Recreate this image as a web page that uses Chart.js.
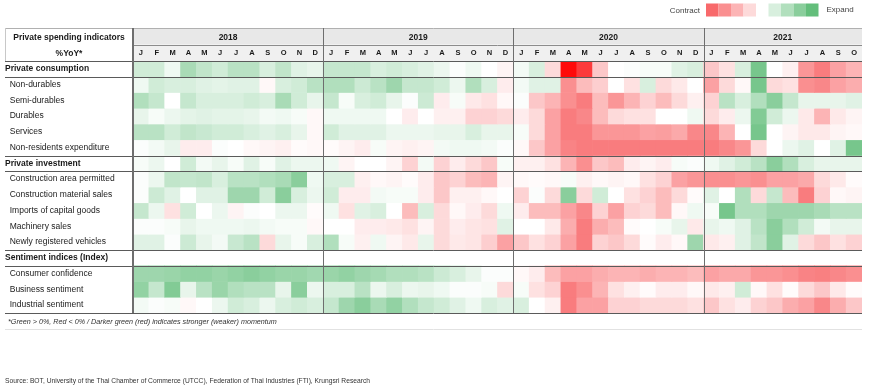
<!DOCTYPE html>
<html>
<head>
<meta charset="utf-8">
<script src="https://cdn.jsdelivr.net/npm/chart.js@4.4.1/dist/chart.umd.min.js"></script>
<style>
  body { margin: 0; background: #fff; }
  #chart { display: block; }
</style>
</head>
<body>
<canvas id="chart" width="870" height="392"></canvas>
<script>
// momentum scores: + = expand (green), - = contract (red)
const years = ['2018', '2019', '2020', '2021'];
const monthsPerYear = [12, 12, 12, 10];
const monthLetters = ['J', 'F', 'M', 'A', 'M', 'J', 'J', 'A', 'S', 'O', 'N', 'D'];

const rowLabels = [
    'Private consumption',
    'Non-durables',
    'Semi-durables',
    'Durables',
    'Services',
    'Non-residents expenditure',
    'Private investment',
    'Construction area permitted',
    'Construction material sales',
    'Imports of capital goods',
    'Machinery sales',
    'Newly registered vehicles',
    'Sentiment indices (Index)',
    'Consumer confidence',
    'Business sentiment',
    'Industrial sentiment',
];
const sectionRows = [0, 6, 12];

const privateConsumption = [
    1.2, 1.2, 0.4, 2.2, 1.6, 1.2, 1.8, 1.8, 1.0, 1.6, 0.8, 0.6,
    1.5, 1.5, 1.5, 1.0, 1.2, 1.0, 0.8, 0.5, 0.1, 0.4, 0.0, -0.3,
    0.3, 1.0, -1.0, -5.0, -4.5, -1.5, 0.0, 0.1, 0.2, 0.2, 0.8, 1.0,
    -1.5, -0.8, 1.0, 3.5, 0.0, -0.4, -2.8, -3.5, -2.5, -2.0,
];
const nonDurables = [
    0.4, 1.2, 1.0, 1.0, 0.8, 0.7, 0.8, 0.8, -0.2, 1.0, 1.2, 1.8,
    2.0, 2.0, 1.3, 1.8, 2.5, 1.5, 1.5, 1.2, 0.5, 2.0, 1.0, -0.5,
    0.3, 0.8, 0.8, -3.0, -1.8, -1.3, 0.0, -0.8, 1.0, -1.0, -0.6, 0.0,
    -2.5, -1.0, -0.2, 3.5, -1.0, -0.8, -3.0, -3.2, -2.5, -2.2,
];
const semiDurables = [
    2.0, 1.5, 0.0, 1.5, 1.0, 1.0, 1.0, 1.2, 1.0, 2.2, 1.2, 0.6,
    1.5, 0.2, 1.0, 1.2, 0.6, 0.1, 1.3, -0.5, 0.2, -0.6, -0.8, -0.2,
    0.1, -1.5, -2.0, -3.0, -3.5, -1.8, -2.8, -2.0, -1.2, -1.8, -1.0, -0.4,
    -1.2, 1.8, 1.0, 2.0, 3.0, 1.5, 0.6, 0.6, 0.6, 0.8,
];
const durables = [
    0.6, 0.2, 0.5, 0.7, 0.8, 0.7, 0.7, 0.6, 0.3, 0.4, 0.2, -0.2,
    0.4, 0.4, 0.4, 0.4, 0.0, -0.5, 0.0, -0.4, -0.4, -1.2, -1.2, -1.0,
    -0.5, -1.0, -2.5, -3.5, -3.2, -1.8, -1.0, -0.8, -0.8, 0.0, 0.0, 0.4,
    -1.0, -0.5, 0.5, 3.2, 1.2, 0.5, -0.6, -2.0, -0.6, -0.3,
];
const services = [
    1.8, 1.8, 1.2, 1.6, 1.4, 1.2, 1.2, 1.0, 0.8, 1.0, 0.6, -0.2,
    1.2, 0.8, 0.8, 0.8, 0.5, 0.5, 0.5, 0.6, 0.6, 1.0, 0.6, 0.6,
    0.2, -1.0, -2.5, -3.5, -3.5, -2.8, -2.8, -2.8, -2.5, -2.6, -2.3, -3.2,
    -3.2, -2.0, 0.0, 3.5, 0.0, -0.3, -0.6, -0.6, -0.3, -0.2,
];
const nonResidents = [
    0.1, 0.3, 0.6, -0.5, -0.5, 0.1, 0.0, -0.2, -0.3, -0.4, -0.1, -0.2,
    -0.1, -0.3, -0.5, 0.2, -0.3, -0.4, -0.3, 0.3, 0.4, 0.4, 0.3, 0.1,
    -0.2, -1.5, -2.5, -3.3, -3.5, -3.5, -3.5, -3.5, -3.5, -3.5, -3.5, -3.5,
    -3.5, -3.2, -2.8, -1.0, 0.0, 0.5, 0.8, 0.0, 0.8, 3.5,
];
const privateInvestment = [
    0.2, 0.5, 0.0, 1.2, 0.3, 0.6, 0.2, 0.8, 0.2, 0.8, 0.5, 0.5,
    0.4, -0.3, 0.0, 0.0, -0.3, -1.2, 0.3, -1.2, -0.5, -1.0, -1.5, 0.2,
    -0.4, -0.4, -0.8, -2.0, -3.0, -1.5, -1.8, -0.5, -0.3, -0.5, 0.2, 0.1,
    0.4, 0.8, 1.2, 1.8, 3.0, 2.0, 1.0, 0.6, 0.6, 0.6,
];
const constructionArea = [
    0.1, 0.5, 1.6, 1.5, 1.6, 1.0, 1.8, 1.8, 2.0, 2.2, 3.0, 0.4,
    1.0, 1.0, -0.4, -0.2, -0.3, -0.1, -0.5, -1.5, -1.2, -1.8, -2.0, -0.3,
    -0.2, -0.1, -0.2, 0.2, -0.4, -0.2, -0.3, -0.2, -0.8, -1.2, -2.5, -2.8,
    -3.0, -3.0, -2.8, -3.0, -2.5, -2.5, -2.3, -1.0, -0.6, -0.1,
];
const constructionMaterial = [
    0.1, 1.3, 0.8, 0.0, 0.8, 0.8, 2.5, 2.5, 1.2, 3.0, 1.0, 0.5,
    1.2, -0.5, -0.5, 0.3, 0.2, 0.2, -0.5, -1.5, -0.4, -0.4, -0.2, 0.0,
    -1.2, 0.1, -1.0, 3.0, -1.0, 1.2, 0.0, -0.8, -1.2, -1.8, -1.0, -0.1,
    0.8, 0.0, 2.0, -1.0, 1.5, -1.8, -3.5, -1.2, -0.2, -0.3,
];
const importsCapital = [
    1.5, 0.5, -0.8, 1.2, 0.0, 0.5, -0.3, 0.1, 0.0, 0.5, 0.5, -0.1,
    0.4, -0.8, 0.8, 1.0, 0.0, -1.8, 1.0, -1.0, -0.2, -0.5, -1.0, 0.4,
    -0.5, -1.8, -1.8, -2.5, -3.2, -1.2, -2.5, -1.2, -1.0, -1.8, -0.2, 0.4,
    0.2, 3.5, 2.0, 2.0, 2.5, 2.5, 2.5, 2.2, 1.8, 1.8,
];
const machinerySales = [
    0.1, 0.1, 0.2, 0.6, 0.4, 0.4, 0.4, 0.5, 0.3, 0.2, 0.2, -0.2,
    0.0, 0.0, -0.5, -0.5, -0.6, -0.8, -0.3, -1.0, -0.5, -0.7, -0.8, 0.8,
    0.0, 0.0, -0.6, -2.2, -3.5, -2.2, -1.8, -0.1, 0.0, 0.2, 0.6, -0.6,
    0.6, 0.4, 0.8, 1.8, 3.0, 2.0, 1.2, 0.3, 0.6, 0.6,
];
const newVehicles = [
    0.8, 0.8, 0.1, 1.3, 0.6, 0.3, 1.4, 1.8, -1.0, 0.6, 0.2, 1.0,
    2.0, 0.2, -0.4, 0.4, -0.3, -0.6, 0.6, -1.0, -0.6, -0.7, -1.3, -2.5,
    -1.5, -0.8, -1.2, -2.5, -3.5, -1.2, -1.5, -1.0, -0.1, -0.5, -0.2, 2.5,
    -0.6, -0.4, 0.8, 1.6, 3.0, 0.8, -1.0, -1.5, -0.8, -1.2,
];
const consumerConfidence = [
    2.5, 2.5, 2.6, 2.8, 2.8, 2.6, 2.8, 3.0, 2.8, 2.6, 2.6, 2.4,
    2.6, 2.8, 2.5, 2.3, 2.0, 2.0, 1.8, 1.3, 1.0, 0.6, 0.1, 0.1,
    -0.2, -0.5, -1.8, -2.5, -2.5, -2.2, -2.0, -2.0, -2.2, -2.0, -2.0, -1.8,
    -2.5, -2.3, -2.3, -2.8, -2.8, -3.0, -3.3, -3.4, -3.2, -3.0,
];
const businessSentiment = [
    2.8, 1.5, 3.2, 0.6, 1.8, 2.6, 2.0, 1.8, 1.8, 0.6, 3.0, 0.5,
    1.0, 1.0, 1.8, 0.5, 1.0, 0.5, 0.6, 0.4, 0.1, 0.1, 0.2, -1.0,
    0.2, -0.8, -1.2, -3.5, -3.0, -2.0, -0.8, -0.4, -0.1, -0.5, -0.5, -0.2,
    -0.6, -0.4, 1.2, -0.2, -0.8, -0.1, -1.0, -1.5, -0.6, -0.1,
];
const industrialSentiment = [
    0.3, 0.1, 0.2, -0.2, 0.0, 0.5, 1.2, 1.0, 0.5, 1.0, 1.2, 1.0,
    1.5, 2.5, 3.0, 2.2, 2.8, 2.0, 1.5, 1.2, 0.8, 0.4, 1.0, 0.8,
    1.0, 0.0, -0.4, -3.5, -2.5, -2.5, -1.2, -1.2, -1.0, -1.0, -1.0, -0.8,
    -1.5, -0.8, -0.5, -1.2, -1.5, -2.2, -2.5, -3.2, -2.2, -1.5,
];

const legendSteps = [-4, -3, -2, -1, 0, 1, 2, 3, 4];

const rowValues = [
    privateConsumption, nonDurables, semiDurables, durables, services, nonResidents,
    privateInvestment, constructionArea, constructionMaterial, importsCapital, machinerySales, newVehicles,
    null, consumerConfidence, businessSentiment, industrialSentiment,
];

const FONT = "'Liberation Sans', Arial, sans-serif";

const months = [];
monthsPerYear.forEach(n => {
    for (let i = 0; i < n; i++) months.push(monthLetters[i]);
});

function mix(a, b, t) {
    return 'rgb(' + a.map((c, i) => Math.round(c + (b[i] - c) * t)).join(',') + ')';
}

function cellColor(v) {
    const white = [255, 255, 255];
    const green = [99, 190, 123];
    const red = [248, 105, 107];
    const deepRed = [255, 10, 10];
    if (v >= 0) return mix(white, green, Math.min(v / 4, 1));
    if (v >= -4) return mix(white, red, -v / 4);
    return mix(red, deepRed, Math.min(-v - 4, 1));
}

const datasets = [];
rowValues.forEach((vals, r) => {
    if (!vals) return;
    datasets.push({
        label: rowLabels[r],
        data: vals.map(() => [r, r + 1]),
        backgroundColor: vals.map(cellColor),
        borderWidth: 0,
        barPercentage: 1,
        categoryPercentage: 1,
        grouped: false,
    });
});

function rowOfTick(ctx) {
    return ctx.tick ? Math.floor(ctx.tick.value) : ctx.index;
}

const tableFrame = {
    id: 'tableFrame',
    beforeDraw(chart) {
        const {ctx, chartArea, scales: {x}} = chart;
        const headTop = x.top;
        const headMid = (x.top + x.bottom) / 2;
        ctx.save();
        ctx.fillStyle = '#fff';
        ctx.fillRect(0, 0, chart.width, chart.height);
        ctx.fillStyle = '#e8e8e8';
        ctx.fillRect(chartArea.left, headTop, chartArea.right - chartArea.left, headMid - headTop);
        ctx.fillStyle = '#f0f0f0';
        ctx.fillRect(chartArea.left, headMid, chartArea.right - chartArea.left, x.bottom - headMid);
        ctx.restore();
    },
    afterDraw(chart) {
        const {ctx, chartArea, scales: {x, y}} = chart;
        const colW = (chartArea.right - chartArea.left) / months.length;
        const headTop = x.top;
        const headMid = (x.top + x.bottom) / 2;
        const tableLeft = y.left;
        const line = (x1, y1, x2, y2, color, w) => {
            ctx.strokeStyle = color;
            ctx.lineWidth = w;
            ctx.beginPath();
            ctx.moveTo(x1, y1);
            ctx.lineTo(x2, y2);
            ctx.stroke();
        };
        ctx.save();

        // header text
        ctx.fillStyle = '#1a1a1a';
        ctx.textAlign = 'center';
        ctx.textBaseline = 'middle';
        ctx.font = 'bold 8.5px ' + FONT;
        ctx.fillText('Private spending indicators', (tableLeft + chartArea.left) / 2, (headTop + headMid) / 2 + 1);
        ctx.fillText('%YoY*', (tableLeft + chartArea.left) / 2, (headMid + x.bottom) / 2 + 1);
        let start = 0;
        years.forEach((yr, i) => {
            const x0 = x.getPixelForValue(start) - colW / 2;
            const x1 = x.getPixelForValue(start + monthsPerYear[i] - 1) + colW / 2;
            ctx.fillText(yr, (x0 + x1) / 2, (headTop + headMid) / 2 + 1);
            start += monthsPerYear[i];
        });

        // horizontal rules
        line(tableLeft, headTop + 0.5, chartArea.right, headTop + 0.5, '#b0b0b0', 1);
        line(chartArea.left, Math.round(headMid) + 0.5, chartArea.right, Math.round(headMid) + 0.5, '#8c8c8c', 1);
        [0, 1, 6, 7, 12, 13, 16].forEach(r => {
            const py = Math.round(y.getPixelForValue(r)) + 0.5;
            line(tableLeft, py, chartArea.right, py, '#5a5a5a', 1);
        });
        line(tableLeft + 0.5, headTop, tableLeft + 0.5, x.bottom, '#c8c8c8', 1);

        // vertical rules
        line(chartArea.left, headTop, chartArea.left, chartArea.bottom, '#6e6e6e', 2);
        start = 0;
        monthsPerYear.slice(0, -1).forEach(n => {
            start += n;
            const px = Math.round(x.getPixelForValue(start) - colW / 2) + 0.5;
            line(px, headTop, px, chartArea.bottom, '#6e6e6e', 1);
        });

        // footnote
        const rowH = y.getPixelForValue(1) - y.getPixelForValue(0);
        ctx.textAlign = 'left';
        ctx.fillStyle = '#333';
        ctx.font = 'italic 7.2px ' + FONT;
        ctx.fillText('*Green > 0%, Red < 0% / Darker green (red) indicates stronger (weaker) momentum',
            tableLeft + 3, chartArea.bottom + rowH / 2 + 1);
        line(tableLeft, Math.round(chartArea.bottom + rowH) + 0.5, chartArea.right, Math.round(chartArea.bottom + rowH) + 0.5, '#e2e2e2', 1);

        // source
        ctx.font = '6.7px ' + FONT;
        ctx.fillStyle = '#333';
        ctx.fillText('Source: BOT, University of the Thai Chamber of Commerce (UTCC), Federation of Thai Industries (FTI), Krungsri Research',
            tableLeft, 381);

        // colour legend
        const boxW = 12.5;
        const boxX = 706;
        ctx.font = '8px ' + FONT;
        ctx.fillStyle = '#444';
        ctx.textAlign = 'right';
        ctx.fillText('Contract', boxX - 6, 10.5);
        legendSteps.forEach((v, i) => {
            ctx.fillStyle = cellColor(v);
            ctx.fillRect(boxX + i * boxW, 3.5, boxW, 13);
        });
        ctx.fillStyle = '#444';
        ctx.textAlign = 'left';
        ctx.fillText('Expand', boxX + legendSteps.length * boxW + 8, 9.5);
        ctx.restore();
    },
};

new Chart(document.getElementById('chart').getContext('2d'), {
    type: 'bar',
    data: {
        labels: months,
        datasets: datasets,
    },
    options: {
        responsive: false,
        animation: false,
        devicePixelRatio: 1,
        layout: {
            padding: {top: 28, left: 5, right: 8, bottom: 79},
        },
        plugins: {
            legend: {display: false},
            tooltip: {enabled: false},
        },
        scales: {
            x: {
                type: 'category',
                position: 'top',
                offset: true,
                grid: {display: false, drawTicks: false},
                border: {display: false},
                afterFit: axis => { axis.height = 33; },
                ticks: {
                    autoSkip: false,
                    maxRotation: 0,
                    padding: 4,
                    color: '#1a1a1a',
                    font: {family: FONT, size: 7.5, weight: 'bold'},
                },
            },
            y: {
                type: 'linear',
                min: 0,
                max: 16,
                reverse: true,
                bounds: 'data',
                grid: {display: false, drawTicks: false},
                border: {display: false},
                afterFit: axis => { axis.width = 128; },
                afterBuildTicks: axis => {
                    axis.ticks = rowLabels.map((_, i) => ({value: i + 0.5}));
                },
                ticks: {
                    autoSkip: false,
                    crossAlign: 'far',
                    padding: 0,
                    color: '#1a1a1a',
                    callback: v => {
                        const r = Math.floor(v);
                        return sectionRows.includes(r) ? rowLabels[r] : '  ' + rowLabels[r];
                    },
                    font: ctx => ({
                        family: FONT,
                        size: 8.5,
                        weight: sectionRows.includes(rowOfTick(ctx)) ? 'bold' : 'normal',
                    }),
                },
            },
        },
    },
    plugins: [tableFrame],
});
</script>
</body>
</html>
